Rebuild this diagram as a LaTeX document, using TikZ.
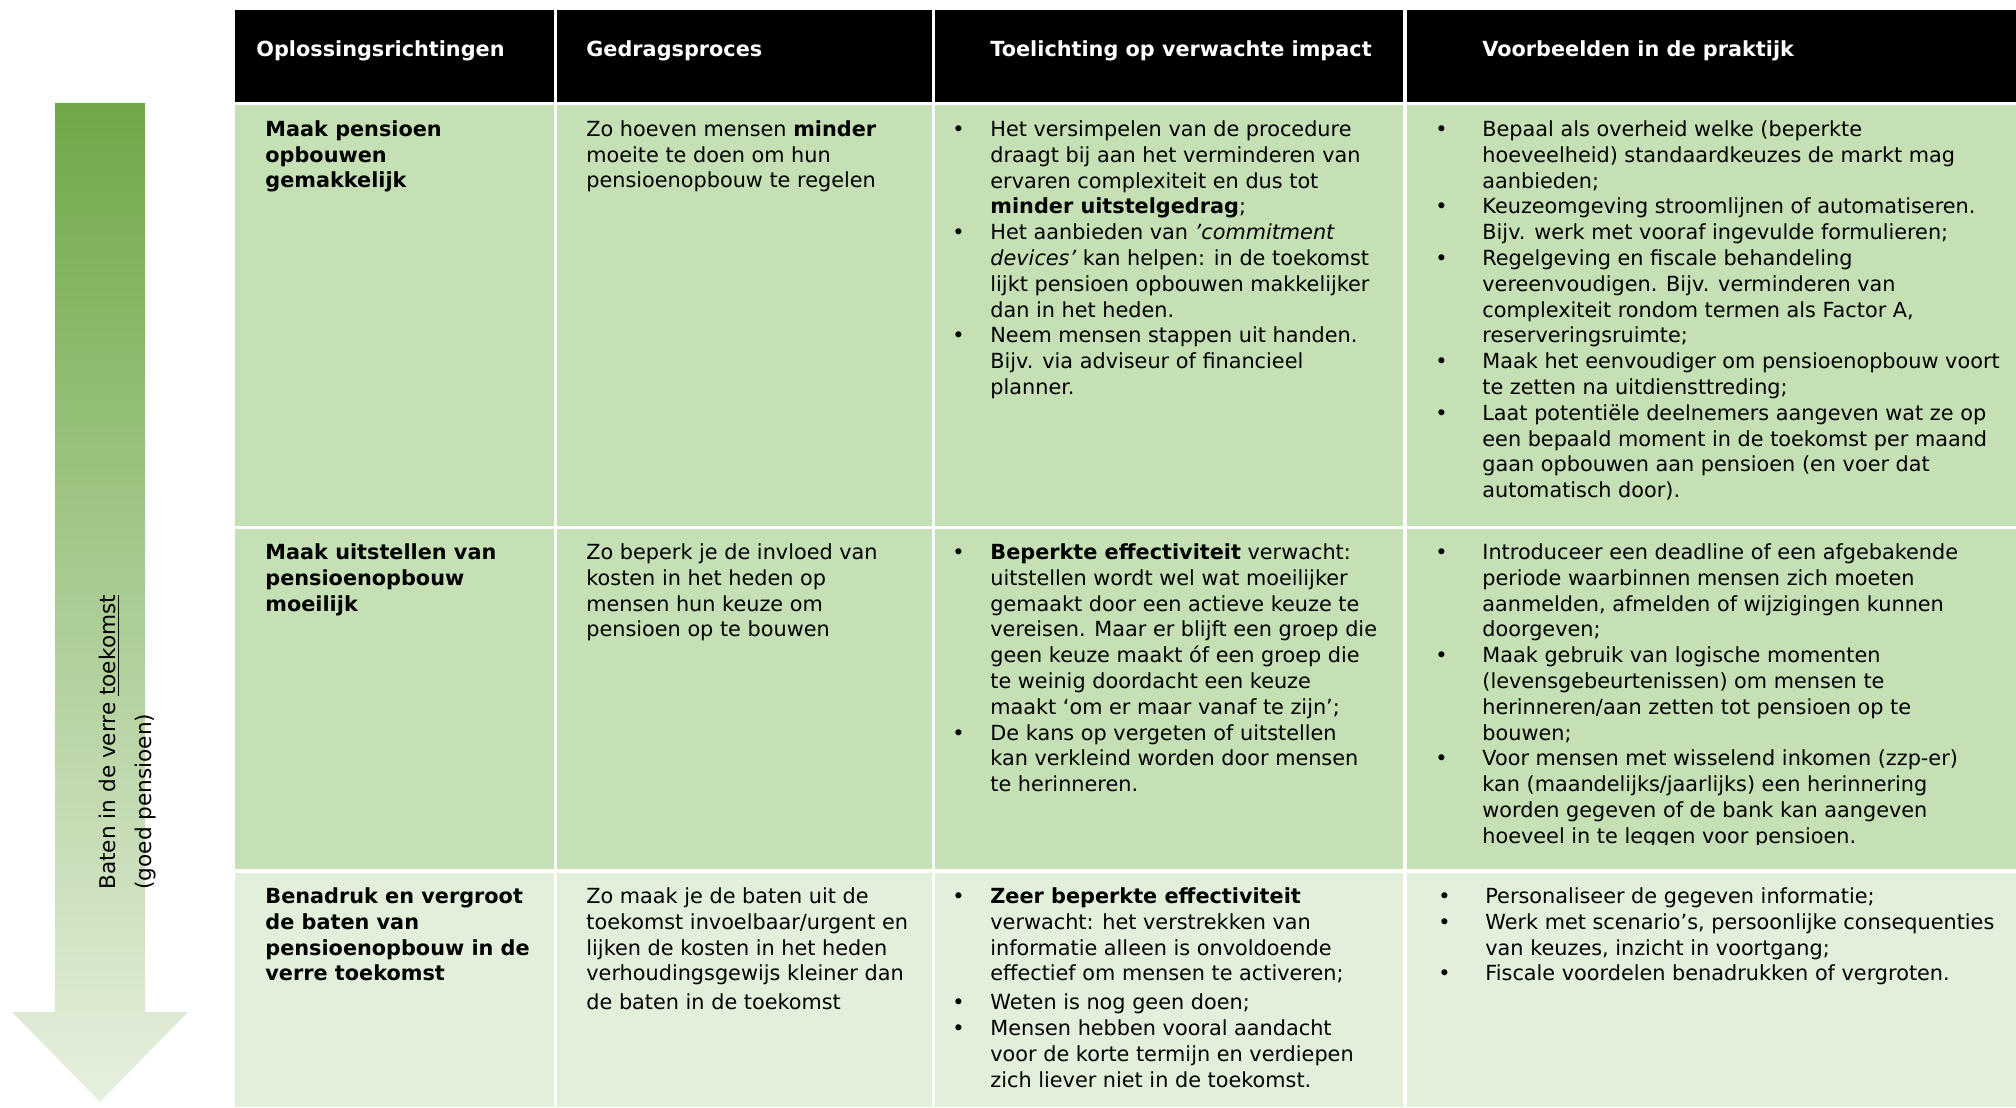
\documentclass[tikz,border=0pt]{standalone}
\usepackage{fontspec}
\setmainfont{DejaVu Sans}

\definecolor{rowgreen}{HTML}{C5E0B4}
\definecolor{lastgreen}{HTML}{E2EFDA}
\definecolor{darkgreen}{HTML}{6FA847}
\definecolor{palegreen}{HTML}{E6F0DF}

\newlength{\bulw}
\newcommand{\bl}{\makebox[\bulw][l]{\textbullet}}
\newcommand{\hi}{\hspace*{\bulw}}
\newcommand{\st}{\rule{0pt}{10pt}}

\begin{document}
\begin{tikzpicture}[
    x=0.5pt, y=-0.5pt,
    head/.style={anchor=base west, inner sep=0pt, text=white,
        font=\fontsize{10.4}{12.9}\selectfont\bfseries},
    cell/.style={anchor=north west, inner sep=0pt, align=left,
        font=\fontsize{10.4}{12.9}\selectfont},
    kop/.style={cell, font=\fontsize{10.4}{12.9}\selectfont\bfseries},
    listA/.style={cell, font=\fontsize{10.4}{12.9}\selectfont\setlength{\bulw}{19pt}},
    listB/.style={cell, font=\fontsize{10.4}{12.9}\selectfont\setlength{\bulw}{23.5pt}},
    arrowtext/.style={rotate=90, anchor=base west, inner sep=0pt, align=left,
        font=\fontsize{10.8}{18}\selectfont}]

    \useasboundingbox (0,0) rectangle (2016,1107);

    % arrow
    \shade[top color=darkgreen, bottom color=palegreen]
        (55,103) -- (145,103) -- (145,1012) -- (188,1012) -- (100,1102)
        -- (12,1012) -- (55,1012) -- cycle;
    \node[arrowtext] (baten) at (151,890) {Baten in de verre \underline{toekomst}\\(goed pensioen)};

    % table cells
    \foreach \xa/\xb in {235/554, 557/932, 935/1403, 1407/2016} {
        \fill[black] (\xa,10) rectangle (\xb,102);
        \fill[rowgreen] (\xa,105) rectangle (\xb,526);
        \fill[rowgreen] (\xa,529) rectangle (\xb,869);
        \fill[lastgreen] (\xa,873) rectangle (\xb,1107);
    }

    \node[head] (hOpl) at (256,57) {Oplossingsrichtingen};
    \node[head] (hGedrag) at (586,57) {Gedragsproces};
    \node[head] (hToel) at (990,57) {Toelichting op verwachte impact};
    \node[head] (hVoorb) at (1482,57) {Voorbeelden in de praktijk};

    % row 1
    \node[kop] (r1c1) at (265,116) {\st Maak pensioen\\opbouwen\\gemakkelijk};
    \node[cell] (r1c2) at (586,116) {\st Zo hoeven mensen \textbf{minder}\\moeite te doen om hun\\pensioenopbouw te regelen};
    \node[listA] (r1c3) at (952,116) {\st\bl Het versimpelen van de procedure\\
        \hi draagt bij aan het verminderen van\\
        \hi ervaren complexiteit en dus tot\\
        \hi \textbf{minder uitstelgedrag};\\
        \bl Het aanbieden van \textit{’commitment}\\
        \hi \textit{devices’} kan helpen: in de toekomst\\
        \hi lijkt pensioen opbouwen makkelijker\\
        \hi dan in het heden.\\
        \bl Neem mensen stappen uit handen.\\
        \hi Bijv. via adviseur of financieel\\
        \hi planner.};
    \node[listB] (r1c4) at (1435,116) {\st\bl Bepaal als overheid welke (beperkte\\
        \hi hoeveelheid) standaardkeuzes de markt mag\\
        \hi aanbieden;\\
        \bl Keuzeomgeving stroomlijnen of automatiseren.\\
        \hi Bijv. werk met vooraf ingevulde formulieren;\\
        \bl Regelgeving en fiscale behandeling\\
        \hi vereenvoudigen. Bijv. verminderen van\\
        \hi complexiteit rondom termen als Factor A,\\
        \hi reserveringsruimte;\\
        \bl Maak het eenvoudiger om pensioenopbouw voort\\
        \hi te zetten na uitdiensttreding;\\
        \bl Laat potentiële deelnemers aangeven wat ze op\\
        \hi een bepaald moment in de toekomst per maand\\
        \hi gaan opbouwen aan pensioen (en voer dat\\
        \hi automatisch door).};

    % row 2
    \node[kop] (r2c1) at (265,539) {\st Maak uitstellen van\\pensioenopbouw\\moeilijk};
    \node[cell] (r2c2) at (586,539) {\st Zo beperk je de invloed van\\kosten in het heden op\\mensen hun keuze om\\pensioen op te bouwen};
    \node[listA] (r2c3) at (952,539) {\st\bl \textbf{Beperkte effectiviteit} verwacht:\\
        \hi uitstellen wordt wel wat moeilijker\\
        \hi gemaakt door een actieve keuze te\\
        \hi vereisen. Maar er blijft een groep die\\
        \hi geen keuze maakt óf een groep die\\
        \hi te weinig doordacht een keuze\\
        \hi maakt ‘om er maar vanaf te zijn’;\\
        \bl De kans op vergeten of uitstellen\\
        \hi kan verkleind worden door mensen\\
        \hi te herinneren.};
    \begin{scope}
        \clip (1407,529) rectangle (2016,844);
        \node[listB] (r2c4) at (1435,539) {\st\bl Introduceer een deadline of een afgebakende\\
            \hi periode waarbinnen mensen zich moeten\\
            \hi aanmelden, afmelden of wijzigingen kunnen\\
            \hi doorgeven;\\
            \bl Maak gebruik van logische momenten\\
            \hi (levensgebeurtenissen) om mensen te\\
            \hi herinneren/aan zetten tot pensioen op te\\
            \hi bouwen;\\
            \bl Voor mensen met wisselend inkomen (zzp-er)\\
            \hi kan (maandelijks/jaarlijks) een herinnering\\
            \hi worden gegeven of de bank kan aangeven\\
            \hi hoeveel in te leggen voor pensioen.};
    \end{scope}

    % row 3
    \node[kop] (r3c1) at (265,883) {\st Benadruk en vergroot\\de baten van\\pensioenopbouw in de\\verre toekomst};
    \node[cell] (r3c2) at (586,883) {\st Zo maak je de baten uit de\\toekomst invoelbaar/urgent en\\lijken de kosten in het heden\\verhoudingsgewijs kleiner dan\\[1.5pt]de baten in de toekomst};
    \node[listA] (r3c3) at (952,883) {\st\bl \textbf{Zeer beperkte effectiviteit}\\
        \hi verwacht: het verstrekken van\\
        \hi informatie alleen is onvoldoende\\
        \hi effectief om mensen te activeren;\\[1.5pt]
        \bl Weten is nog geen doen;\\
        \bl Mensen hebben vooral aandacht\\
        \hi voor de korte termijn en verdiepen\\
        \hi zich liever niet in de toekomst.};
    \node[listB] (r3c4) at (1438,883) {\st\bl Personaliseer de gegeven informatie;\\
        \bl Werk met scenario’s, persoonlijke consequenties\\
        \hi van keuzes, inzicht in voortgang;\\
        \bl Fiscale voordelen benadrukken of vergroten.};

\end{tikzpicture}
\end{document}
